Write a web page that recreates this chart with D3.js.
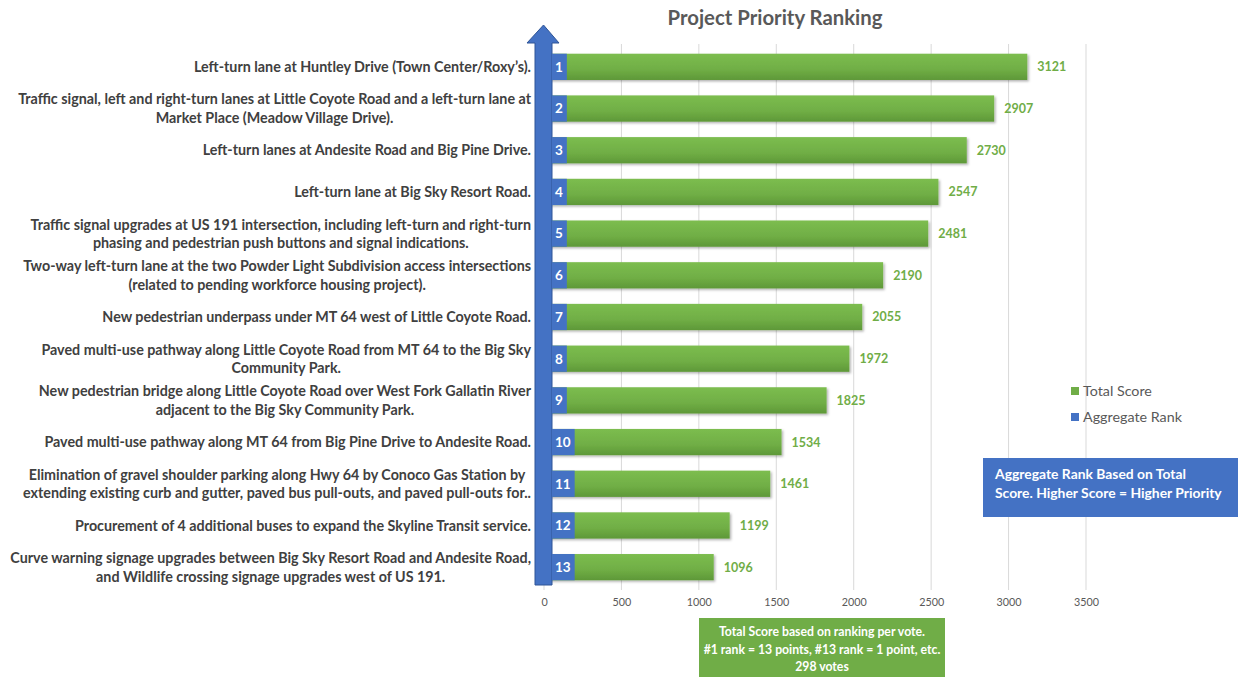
<!DOCTYPE html>
<html><head><meta charset="utf-8">
<script src="https://cdn.jsdelivr.net/npm/d3@7"></script>
<style>body{margin:0;background:#fff;}svg{display:block;}</style>
</head><body>
<svg id="c" width="1238" height="677"></svg>
<script>
const ranks = [1,2,3,4,5,6,7,8,9,10,11,12,13];
const totalScores = [3121,2907,2730,2547,2481,2190,2055,1972,1825,1534,1461,1199,1096];
const projectLabels = [
 ["Left-turn lane at Huntley Drive (Town Center/Roxy’s)."],
 ["Traffic signal, left and right-turn lanes at Little Coyote Road and a left-turn lane at","Market Place (Meadow Village Drive)."],
 ["Left-turn lanes at Andesite Road and Big Pine Drive."],
 ["Left-turn lane at Big Sky Resort Road."],
 ["Traffic signal upgrades at US 191 intersection, including left-turn and right-turn","phasing and pedestrian push buttons and signal indications."],
 ["Two-way left-turn lane at the two Powder Light Subdivision access intersections","(related to pending workforce housing project)."],
 ["New pedestrian underpass under MT 64 west of Little Coyote Road."],
 ["Paved multi-use pathway along Little Coyote Road from MT 64 to the Big Sky","Community Park."],
 ["New pedestrian bridge along Little Coyote Road over West Fork Gallatin River","adjacent to the Big Sky Community Park."],
 ["Paved multi-use pathway along MT 64 from Big Pine Drive to Andesite Road."],
 ["Elimination of gravel shoulder parking along Hwy 64 by Conoco Gas Station by","extending existing curb and gutter, paved bus pull-outs, and paved pull-outs for.."],
 ["Procurement of 4 additional buses to expand the Skyline Transit service."],
 ["Curve warning signage upgrades between Big Sky Resort Road and Andesite Road,","and Wildlife crossing signage upgrades west of US 191."]
];
const xTicks = [0,500,1000,1500,2000,2500,3000,3500];
const chartTitle = "Project Priority Ranking";
const legendItems = ["Total Score","Aggregate Rank"];
const rankNote = ["Aggregate Rank Based on Total","Score. Higher Score = Higher Priority"];
const scoreNote = ["Total Score based on ranking per vote.","#1 rank = 13 points, #13 rank = 1 point, etc.","298 votes"];

const green = "#70ad47", blue = "#4472c4", textGray = "#404040";
const FONT = "Lato, 'Open Sans', sans-serif";
const svg = d3.select("#c");
const defs = svg.append("defs");
const g1 = defs.append("linearGradient").attr("id","gbar").attr("x1",0).attr("x2",0).attr("y1",0).attr("y2",1);
g1.append("stop").attr("offset","0%").attr("stop-color","#7cbd4f");
g1.append("stop").attr("offset","60%").attr("stop-color","#70ae45");
g1.append("stop").attr("offset","100%").attr("stop-color","#5e9838");
const f = defs.append("filter").attr("id","sh").attr("x","-5%").attr("y","-20%").attr("width","115%").attr("height","160%");
f.append("feDropShadow").attr("dx",1.5).attr("dy",1.5).attr("stdDeviation",1.2).attr("flood-color","#000").attr("flood-opacity",0.3);

// helper: size text so that it spans a target width
function fitSize(str, weight, target, base){
  const t = svg.append("text").attr("font-family",FONT).attr("font-weight",weight).attr("font-size",base).text(str);
  const w = t.node().getComputedTextLength(); t.remove();
  return base*target/w;
}

const x = d3.scaleLinear().domain([0,3500]).range([544,1086]);
const y = d3.scaleBand().domain(ranks).range([46,588]).paddingInner(0.37).paddingOuter(0.185);

// gridlines
svg.append("g").selectAll("line").data(xTicks).join("line")
  .attr("x1",d=>x(d)).attr("x2",d=>x(d)).attr("y1",44).attr("y2",590)
  .attr("stroke","#d9d9d9").attr("stroke-width",1);

// x axis tick labels
const xAxis = d3.axisBottom(x).tickValues(xTicks).tickFormat(d3.format("d")).tickSize(0).tickPadding(0);
const ax = svg.append("g").attr("transform","translate(0,598)").call(xAxis);
ax.select(".domain").remove();
ax.selectAll("text").attr("font-family",FONT).attr("font-size",fitSize("1000","normal",25,12)).attr("fill","#595959").attr("dy","0.71em");

// title
svg.append("text").attr("x",775).attr("y",25).attr("text-anchor","middle")
  .attr("font-family",FONT).attr("font-weight","bold").attr("font-size",fitSize(chartTitle,"bold",215,18)).attr("fill","#595959").text(chartTitle);

// bars
const data = ranks.map((r,i)=>({rank:r,score:totalScores[i],label:projectLabels[i]}));
svg.append("g").selectAll("rect").data(data).join("rect")
  .attr("x",x(0)).attr("y",d=>y(d.rank)).attr("width",d=>x(d.score)-x(0)).attr("height",y.bandwidth())
  .attr("fill","url(#gbar)").attr("filter","url(#sh)");

// value labels
const vfs = fitSize("3121","bold",29,14);
svg.append("g").selectAll("text").data(data).join("text")
  .attr("x",d=>x(d.score)+10).attr("y",d=>y(d.rank)+y.bandwidth()/2).attr("dy","0.36em")
  .attr("font-family",FONT).attr("font-weight","bold").attr("font-size",vfs).attr("fill",green)
  .text(d=>d.score);

// arrow
const ax0 = 535, ax1 = 552;
svg.append("path")
  .attr("d",`M${ax0},585 L${ax0},43 L${ax0-8},43 L${(ax0+ax1)/2},25 L${ax1+7},43 L${ax1},43 L${ax1},585 Z`)
  .attr("fill",blue).attr("stroke","#2f5597").attr("stroke-width",1);

// rank labels with blue background
const rg = svg.append("g");
data.forEach(d=>{
  const cy = y(d.rank)+y.bandwidth()/2;
  const t = rg.append("text").attr("x",555).attr("y",cy).attr("dy","0.36em")
    .attr("font-family",FONT).attr("font-weight","bold").attr("font-size",13.5).attr("fill","#fff").text(d.rank);
  const w = t.node().getComputedTextLength();
  rg.insert("rect","text").attr("x",552).attr("y",y(d.rank)).attr("width",w+7).attr("height",y.bandwidth()).attr("fill",blue);
});

// category labels
const lg = svg.append("g");
const labelRight = 531;
const fs = fitSize(projectLabels[12][0],"bold",521,14);
data.forEach(d=>{
  const cy = y(d.rank)+y.bandwidth()/2;
  const lh = 18.5;
  const n = d.label.length;
  const ts = d.label.map((line,i)=> lg.append("text")
      .attr("y", cy + (i-(n-1)/2)*lh).attr("dy","0.36em")
      .attr("font-family",FONT).attr("font-weight","bold").attr("font-size",fs).attr("fill",textGray)
      .attr("text-anchor","middle").text(line));
  const maxW = d3.max(ts, t=>t.node().getComputedTextLength());
  ts.forEach(t=>t.attr("x", labelRight - maxW/2));
});

// legend
const leg = svg.append("g");
const lfs = fitSize("Total Score","normal",69,14);
[green, blue].forEach((c,i)=>{
  leg.append("rect").attr("x",1071).attr("y",387+i*26).attr("width",8).attr("height",8).attr("fill",c);
  leg.append("text").attr("x",1083).attr("y",391+i*26).attr("dy","0.36em")
    .attr("font-family",FONT).attr("font-size",lfs).attr("fill","#595959").text(legendItems[i]);
});

// blue note box
const bfs = fitSize(rankNote[1],"bold",227,13);
svg.append("rect").attr("x",983).attr("y",458).attr("width",255).attr("height",59).attr("fill",blue);
rankNote.forEach((s,i)=>svg.append("text").attr("x",995).attr("y",474+i*19).attr("dy","0.36em")
  .attr("font-family",FONT).attr("font-weight","bold").attr("font-size",bfs).attr("fill","#fff").text(s));

// green note box
const gfs = fitSize(scoreNote[1],"bold",237,13);
svg.append("rect").attr("x",699).attr("y",618).attr("width",246).attr("height",59).attr("fill",green);
scoreNote.forEach((s,i)=>svg.append("text").attr("x",822).attr("y",632+i*17.5).attr("dy","0.36em")
  .attr("text-anchor","middle")
  .attr("font-family",FONT).attr("font-weight","bold").attr("font-size",gfs).attr("fill","#fff").text(s));
</script>
</body></html>
